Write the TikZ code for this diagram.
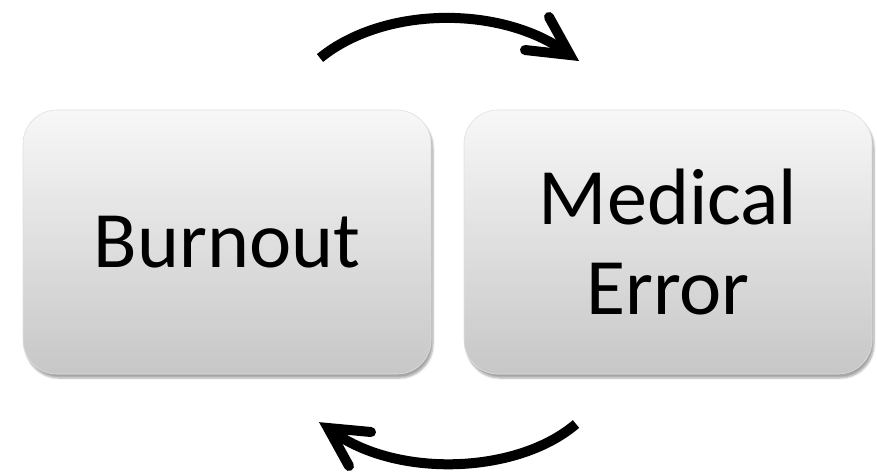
\documentclass[tikz,border=0pt]{standalone}
\usepackage{fontspec}
\setmainfont{Carlito}
\usetikzlibrary{shadows.blur}
\begin{document}
\begin{tikzpicture}[x=1pt,y=-1pt,
  box/.style={rounded corners=34pt, draw=gray!25, line width=0.6pt,
    top color=white!97!black, bottom color=black!22,
    blur shadow={shadow xshift=2pt, shadow yshift=-4pt, shadow blur steps=6, shadow opacity=35},
    minimum width=408pt, minimum height=264pt, inner sep=0pt, align=center,
    font=\fontsize{80}{90}\selectfont},
  arr/.style={line width=10pt, line cap=round, line join=round}]
\useasboundingbox (0,0) rectangle (877,475);
\node[box] (burnout) at (227,242) {Burnout};
\node[box] (error) at (668,242) {Medical\\Error};
% top arrow
\coordinate (ts) at (320,58);
\coordinate (te) at (570,55);
\coordinate (tb1) at (549,17);
\coordinate (tb2) at (525,50);
\draw[arr, line cap=butt] (ts) .. controls (385,5) and (505,5) .. (te);
\draw[arr, line join=miter] (tb1) -- (te) -- (tb2);
% bottom arrow
\coordinate (bs) at (576,424);
\coordinate (be) at (328,428);
\coordinate (bb1) at (371,432);
\coordinate (bb2) at (349,466);
\draw[arr, line cap=butt] (bs) .. controls (515,476) and (390,478) .. (be);
\draw[arr, line join=miter] (bb1) -- (be) -- (bb2);
\end{tikzpicture}
\end{document}
